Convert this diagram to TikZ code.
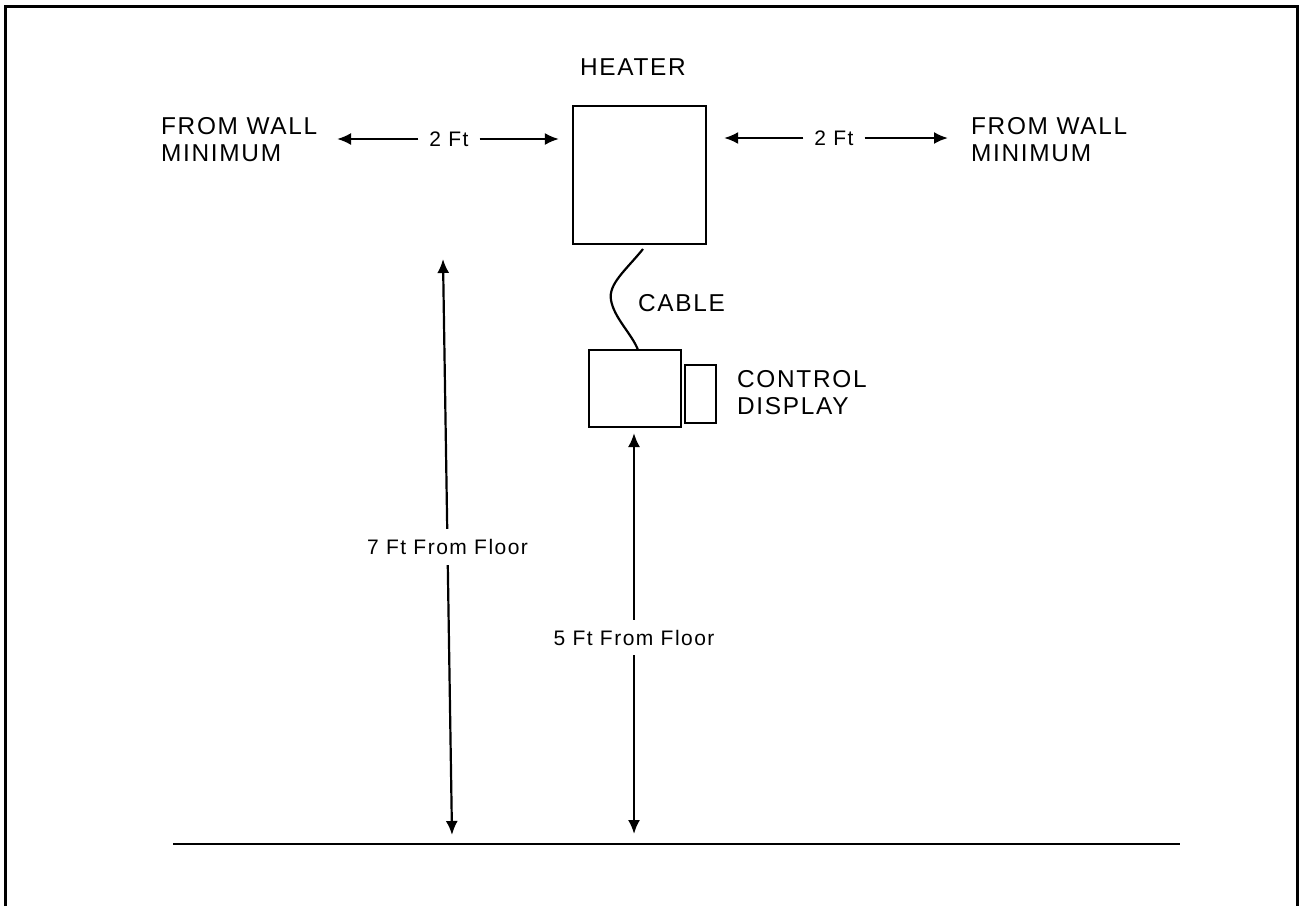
\documentclass[tikz,border=0pt]{standalone}
\usepackage{fontspec}
\setmainfont{Liberation Sans}
\newfontfamily\capsfont[LetterSpace=7]{Liberation Sans}
\newfontfamily\dimfont[LetterSpace=7]{Liberation Sans}
\usepackage{tikz}
\usetikzlibrary{positioning, calc, arrows.meta}

\begin{document}
\begin{tikzpicture}[x=0.5pt, y=-0.5pt, line width=1.1pt, >={Latex[length=7pt,width=6pt]}]
		\tikzstyle{unitbox}=[draw=black, line width=1.1pt, inner sep=0pt]
		\tikzstyle{caplabel}=[inner sep=0pt, align=left, font=\capsfont\fontsize{12.2}{13.5}\selectfont]
		\tikzstyle{dimlabel}=[inner sep=5pt, fill=white, font=\dimfont\fontsize{10.5}{12}\selectfont]
		
		\useasboundingbox (0,0) rectangle (1299,906);
		% frame, open at the bottom
		\draw [line width=1.5pt] (5,906) -- (5,6) -- (1297,6) -- (1297,906);
		
		\node (heater) at (639.5,175) [unitbox, minimum width=66.5pt, minimum height=69pt] {};
		\node (control) at (635,388.5) [unitbox, minimum width=46pt, minimum height=38.5pt] {};
		\node (display) at (700.5,394) [unitbox, minimum width=15.5pt, minimum height=29pt] {};
		
		\node (heatertxt) [caplabel, anchor=west] at (579,67) {HEATER};
		\node (cabletxt) [caplabel, anchor=west] at (637,303) {CABLE};
		\node (controltxt) [caplabel, anchor=west] at (736,393) {CONTROL\\DISPLAY};
		\node (wallLtxt) [caplabel, anchor=west] at (160,140) {FROM WALL\\MINIMUM};
		\node (wallRtxt) [caplabel, anchor=west] at (970,140) {FROM WALL\\MINIMUM};
		
		% cable
		\coordinate (cabtop) at (643,249);
		\coordinate (cabbot) at (638,350);
		\draw (cabtop) .. controls (626,270) and (608,284) .. (611,300) .. controls (614,318) and (632,334) .. (cabbot);
		
		% wall clearances
		\coordinate (wallL) at (337,139);
		\coordinate (wallR) at (948,138);
		\node (ftleft) [dimlabel] at (449,139) {2 Ft};
		\node (ftright) [dimlabel] at (834,138) {2 Ft};
		\draw [->] (ftleft) -- (wallL);
		\draw [->, shorten >=6.5pt] (ftleft) -- (heater.west |- ftleft);
		\draw [->, shorten >=8.5pt] (ftright) -- (heater.east |- ftright);
		\draw [->] (ftright) -- (wallR);
		
		% floor and heights
		\coordinate (floorL) at (173,844);
		\coordinate (floorR) at (1180,844);
		\draw (floorL) -- (floorR);
		
		\coordinate (top7) at (443,259);
		\coordinate (bot7) at (452,835);
		\coordinate (top5) at (634,433);
		\coordinate (bot5) at (634,834);
		\draw [<->] (top7) -- (bot7) node [dimlabel, midway] (ft7) {7 Ft From Floor};
		\draw [<->] (top5) -- (bot5) node [dimlabel, pos=0.51] (ft5) {5 Ft From Floor};
		\end{tikzpicture}
\end{document}
